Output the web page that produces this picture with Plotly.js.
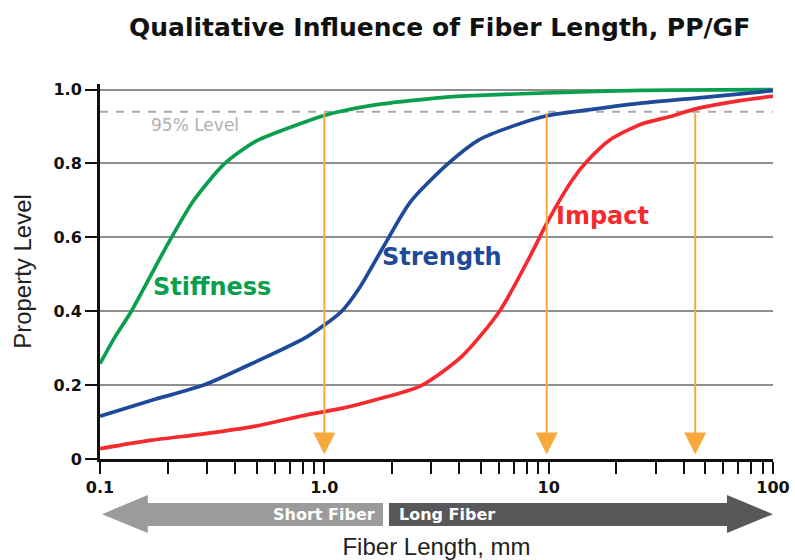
<!DOCTYPE html>
<html>
<head>
<meta charset="utf-8">
<script src="https://cdn.plot.ly/plotly-3.0.1.min.js"></script>
<style>html,body{margin:0;padding:0;background:#fff;}#chart{width:795px;height:560px;}</style>
</head>
<body>
<div id="chart"></div>
<script>
// ---- data ----
const stiffnessX = [0.1, 0.117, 0.138, 0.196, 0.261, 0.36, 0.494, 0.843, 0.99, 1.16, 1.71, 2.42, 3.42, 4.89, 9.8, 25.8, 100];
const stiffnessY = [0.258, 0.332, 0.40, 0.571, 0.699, 0.80, 0.86, 0.915, 0.929, 0.94, 0.959, 0.97, 0.979, 0.984, 0.991, 0.998, 1.0];

const strengthX = [0.1, 0.17, 0.29, 0.494, 0.843, 1.196, 1.43, 1.82, 2.42, 3.57, 4.89, 6.92, 9.8, 15.9, 25.8, 49.3, 100];
const strengthY = [0.116, 0.159, 0.20, 0.263, 0.332, 0.40, 0.462, 0.571, 0.696, 0.80, 0.864, 0.901, 0.929, 0.947, 0.963, 0.979, 0.997];

const impactX = [0.1, 0.17, 0.29, 0.494, 0.843, 1.196, 1.71, 2.69, 4.09, 6.04, 8.28, 9.8, 12.7, 15.0, 18.8, 25.8, 35.9, 44.8, 67.9, 100];
const impactY = [0.028, 0.051, 0.068, 0.089, 0.12, 0.137, 0.161, 0.198, 0.277, 0.40, 0.55, 0.638, 0.754, 0.809, 0.864, 0.906, 0.929, 0.947, 0.968, 0.982];

const levelLine = 0.94;            // "95% Level" dashed line (as drawn)
const levelRange = [0.1, 100];
const arrowX = [1.0, 9.8, 45];     // orange drop arrows

const xTickVals = [0.1,0.2,0.3,0.4,0.5,0.6,0.7,0.8,0.9,1,2,3,4,5,6,7,8,9,10,20,30,40,50,60,70,80,90,100];
const xTickText = xTickVals.map(v => v === 0.1 ? "0.1" : v === 1 ? "1.0" : v === 10 ? "10" : v === 100 ? "100" : "");
const yTickVals = [0, 0.2, 0.4, 0.6, 0.8, 1.0];
const yTickText = ["0", "0.2", "0.4", "0.6", "0.8", "1.0"];

const seriesNames = ["Stiffness", "Strength", "Impact"];
const seriesColors = ["#0a9f4e", "#1f4a99", "#f52a2e"];
const labelPos = [[0.316, 0.465], [3.35, 0.547], [17.3, 0.658]];

// ---- traces ----
const lw = 3.7;
const traces = [
  {x: levelRange, y: [levelLine, levelLine], mode: 'lines', line: {color: '#a8a8a8', width: 2, dash: '8px,8px'}, hoverinfo: 'skip'},
  {x: stiffnessX, y: stiffnessY, mode: 'lines', name: seriesNames[0], line: {color: seriesColors[0], width: lw, shape: 'spline', smoothing: 0.7}},
  {x: strengthX, y: strengthY, mode: 'lines', name: seriesNames[1], line: {color: seriesColors[1], width: lw, shape: 'spline', smoothing: 0.7}},
  {x: impactX, y: impactY, mode: 'lines', name: seriesNames[2], line: {color: seriesColors[2], width: lw, shape: 'spline', smoothing: 0.7}}
];

const boldFam = 'DejaVu Sans, Liberation Sans, sans-serif';

// ---- annotations ----
const annotations = [];
arrowX.forEach(v => {
  annotations.push({
    x: Math.log10(v), y: 0.012, ax: Math.log10(v), ay: levelLine,
    xref: 'x', yref: 'y', axref: 'x', ayref: 'y',
    text: '', showarrow: true, arrowhead: 2, arrowsize: 2.2, arrowwidth: 2, arrowcolor: '#f9a93c'
  });
});
seriesNames.forEach((n, i) => {
  annotations.push({
    x: Math.log10(labelPos[i][0]), y: labelPos[i][1], xref: 'x', yref: 'y',
    text: n, showarrow: false,
    font: {family: boldFam, size: 24, color: seriesColors[i], weight: 'bold'}
  });
});
annotations.push({
  x: Math.log10(0.266), y: 0.905, xref: 'x', yref: 'y', text: '95% Level', showarrow: false,
  font: {family: 'DejaVu Sans, sans-serif', size: 17, color: '#b0b0b0'}
});
annotations.push({
  x: 0.4115, y: -0.147, xref: 'paper', yref: 'paper', xanchor: 'right', yanchor: 'middle', text: 'Short Fiber', showarrow: false,
  font: {family: boldFam, size: 16, color: '#ffffff', weight: 'bold'}
});
annotations.push({
  x: 0.442, y: -0.147, xref: 'paper', yref: 'paper', xanchor: 'left', yanchor: 'middle', text: 'Long Fiber', showarrow: false,
  font: {family: boldFam, size: 16, color: '#ffffff', weight: 'bold'}
});

// ---- big direction arrows under the axis (paper coords) ----
const yTopShaft = -0.1173, yBotShaft = -0.1787, yTopHead = -0.096, yBotHead = -0.197, yMid = -0.147;
const shapes = [
  {type: 'path', xref: 'paper', yref: 'paper', fillcolor: '#9b9b9b', line: {width: 0},
   path: `M 0.003 ${yMid} L 0.071 ${yTopHead} L 0.071 ${yTopShaft} L 0.4205 ${yTopShaft} L 0.4205 ${yBotShaft} L 0.071 ${yBotShaft} L 0.071 ${yBotHead} Z`},
  {type: 'path', xref: 'paper', yref: 'paper', fillcolor: '#58585a', line: {width: 0},
   path: `M 0.4294 ${yTopShaft} L 0.9316 ${yTopShaft} L 0.9316 ${yTopHead} L 1.0 ${yMid} L 0.9316 ${yBotHead} L 0.9316 ${yBotShaft} L 0.4294 ${yBotShaft} Z`}
];

const tickFont = {family: 'DejaVu Sans, sans-serif', size: 16, color: '#111', weight: 'bold'};

const layout = {
  width: 795, height: 560,
  margin: {l: 100, r: 22, t: 84, b: 101},
  paper_bgcolor: '#fff', plot_bgcolor: '#fff',
  showlegend: false,
  title: {
    text: 'Qualitative Influence of Fiber Length, PP/GF',
    font: {family: boldFam, size: 25, color: '#111', weight: 'bold'},
    x: 0.553, xanchor: 'center', xref: 'container', y: 0.952, yanchor: 'middle', yref: 'container'
  },
  xaxis: {
    type: 'log', range: [-1, 2],
    tickmode: 'array', tickvals: xTickVals, ticktext: xTickText,
    ticks: 'outside', ticklen: 12, tickwidth: 2, tickcolor: '#111',
    showline: true, linecolor: '#111', linewidth: 3,
    showgrid: false, zeroline: false,
    tickfont: tickFont,
    title: {text: 'Fiber Length, mm', standoff: 48, font: {family: 'Liberation Sans, Arial, sans-serif', size: 24, color: '#222'}}
  },
  yaxis: {
    range: [0, 1.015],
    tickmode: 'array', tickvals: yTickVals, ticktext: yTickText,
    ticks: 'outside', ticklen: 12, tickwidth: 2, tickcolor: '#111',
    showline: true, linecolor: '#111', linewidth: 3,
    showgrid: true, gridcolor: '#8e8e8e', gridwidth: 2, zeroline: false,
    tickfont: tickFont,
    title: {text: 'Property Level', standoff: 16, font: {family: 'Liberation Sans, Arial, sans-serif', size: 24, color: '#222'}}
  },
  annotations: annotations,
  shapes: shapes
};

Plotly.newPlot('chart', traces, layout, {staticPlot: true, displayModeBar: false});
</script>
</body>
</html>
